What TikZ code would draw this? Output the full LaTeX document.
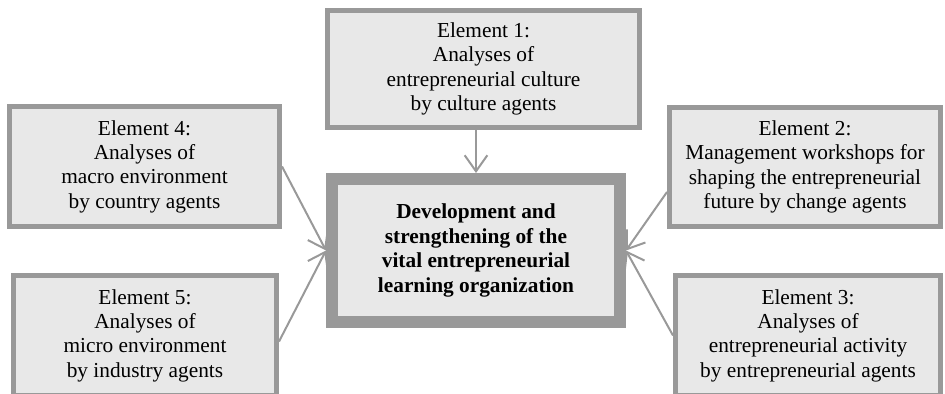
\documentclass[tikz,border=0pt]{standalone}
\usepackage{fontspec}
\setmainfont{Liberation Serif}
\usetikzlibrary{arrows.meta}

\definecolor{boxgray}{gray}{0.6}
\definecolor{boxfill}{gray}{0.91}

\begin{document}
\begin{tikzpicture}[x=0.75pt, y=-0.75pt,
  elem/.style={draw=boxgray, fill=boxfill, line width=3.75pt, inner sep=0pt,
    align=center, minimum height=90pt, font=\fontsize{16}{18.3}\selectfont},
  core/.style={draw=boxgray, fill=boxfill, line width=9pt, inner sep=0pt,
    align=center, minimum width=216pt, minimum height=107.25pt,
    font=\fontsize{16}{18.3}\selectfont\bfseries},
  arr/.style={color=boxgray, line width=1.5pt,
    -{Straight Barb[length=12pt, width=17pt, line width=1.5pt]}}]
  \useasboundingbox (0,0) rectangle (945,393);

  % centre box and the five elements around it
  \node[core] (ctr) at (476,250.5)
    {Development and\\strengthening of the\\vital entrepreneurial\\learning organization};
  \node[elem, minimum width=234pt, minimum height=87.75pt] (e1) at (483.5,69)
    {Element 1:\\Analyses of\\entrepreneurial culture\\by culture agents};
  \node[elem, minimum width=203.25pt, minimum height=89.25pt] (e2) at (805,167)
    {Element 2:\\Management workshops for\\shaping the entrepreneurial\\future by change agents};
  \node[elem, minimum width=198.75pt] (e3) at (808,335.5)
    {Element 3:\\Analyses of\\entrepreneurial activity\\by entrepreneurial agents};
  \node[elem, minimum width=202.5pt] (e4) at (144.5,166.5)
    {Element 4:\\Analyses of\\macro environment\\by country agents};
  \node[elem, minimum width=197.25pt] (e5) at (145,335.5)
    {Element 5:\\Analyses of\\micro environment\\by industry agents};

  \path[arr]
    (e1.south -| ctr.north) edge (ctr.north)
    ([yshift=-18.75pt]e2.west) edge (ctr.east)
    (e3.west) edge (ctr.east)
    (e4.east) edge (ctr.west)
    ([yshift=-4.5pt]e5.east) edge (ctr.west);
\end{tikzpicture}
\end{document}
